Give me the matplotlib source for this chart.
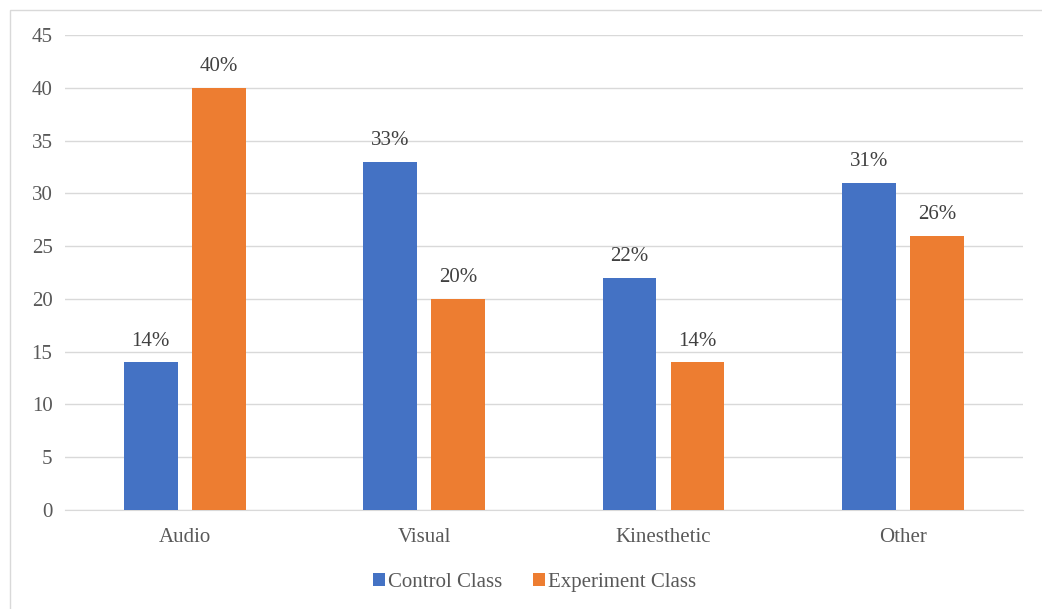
import numpy as np
import matplotlib.pyplot as plt
from matplotlib.patches import Rectangle

# --- data ---
categories = ['Audio', 'Visual', 'Kinesthetic', 'Other']
control = [14, 33, 22, 31]
experiment = [40, 20, 14, 26]
series_names = ['Control Class', 'Experiment Class']
yticks = [0, 5, 10, 15, 20, 25, 30, 35, 40, 45]

blue = '#4472C4'
orange = '#ED7D31'
text_col = '#595959'

plt.rcParams['font.family'] = ['Liberation Serif', 'DejaVu Serif']

fig = plt.figure(figsize=(10.42, 6.09), dpi=100)
ax = fig.add_axes([0.0624, 0.1626, 0.919, 0.780])

# Outer chart frame (runs off the right/bottom edge like the source crop)
fig.patches.append(Rectangle((0.010, -0.01), 1.0, 0.993, transform=fig.transFigure,
                             fill=False, edgecolor='#d9d9d9', linewidth=1.0))

x = np.arange(len(categories))
w = 0.225
off = 0.142
b1 = ax.bar(x - off, control, w, color=blue, label=series_names[0], zorder=3)
b2 = ax.bar(x + off, experiment, w, color=orange, label=series_names[1], zorder=3)

for bars, vals in ((b1, control), (b2, experiment)):
    for rect, v in zip(bars, vals):
        ax.text(rect.get_x() + rect.get_width() / 2, v + 1.1, f'{v}%',
                ha='center', va='bottom', fontsize=15, color='#404040')

ax.set_xlim(-0.5, len(categories) - 0.5)
ax.set_ylim(0, 45)
ax.set_yticks(yticks)
ax.set_xticks(x)
ax.set_xticklabels(categories)
ax.tick_params(axis='both', length=0, labelsize=15, colors=text_col)
ax.tick_params(axis='y', pad=9)
ax.tick_params(axis='x', pad=13)
ax.yaxis.grid(True, color='#d9d9d9', linewidth=1.0, zorder=0)
for s in ['top', 'right', 'left']:
    ax.spines[s].set_visible(False)
ax.spines['bottom'].set_color('#d9d9d9')

leg = fig.legend(handles=[b1, b2], labels=series_names, loc='center',
                 bbox_to_anchor=(0.513, 0.043), ncol=2, frameon=False,
                 fontsize=15, handlelength=0.58, handleheight=0.58,
                 handletextpad=0.15, columnspacing=1.45)
for t in leg.get_texts():
    t.set_color(text_col)

fig.savefig('out.png', dpi=100)
